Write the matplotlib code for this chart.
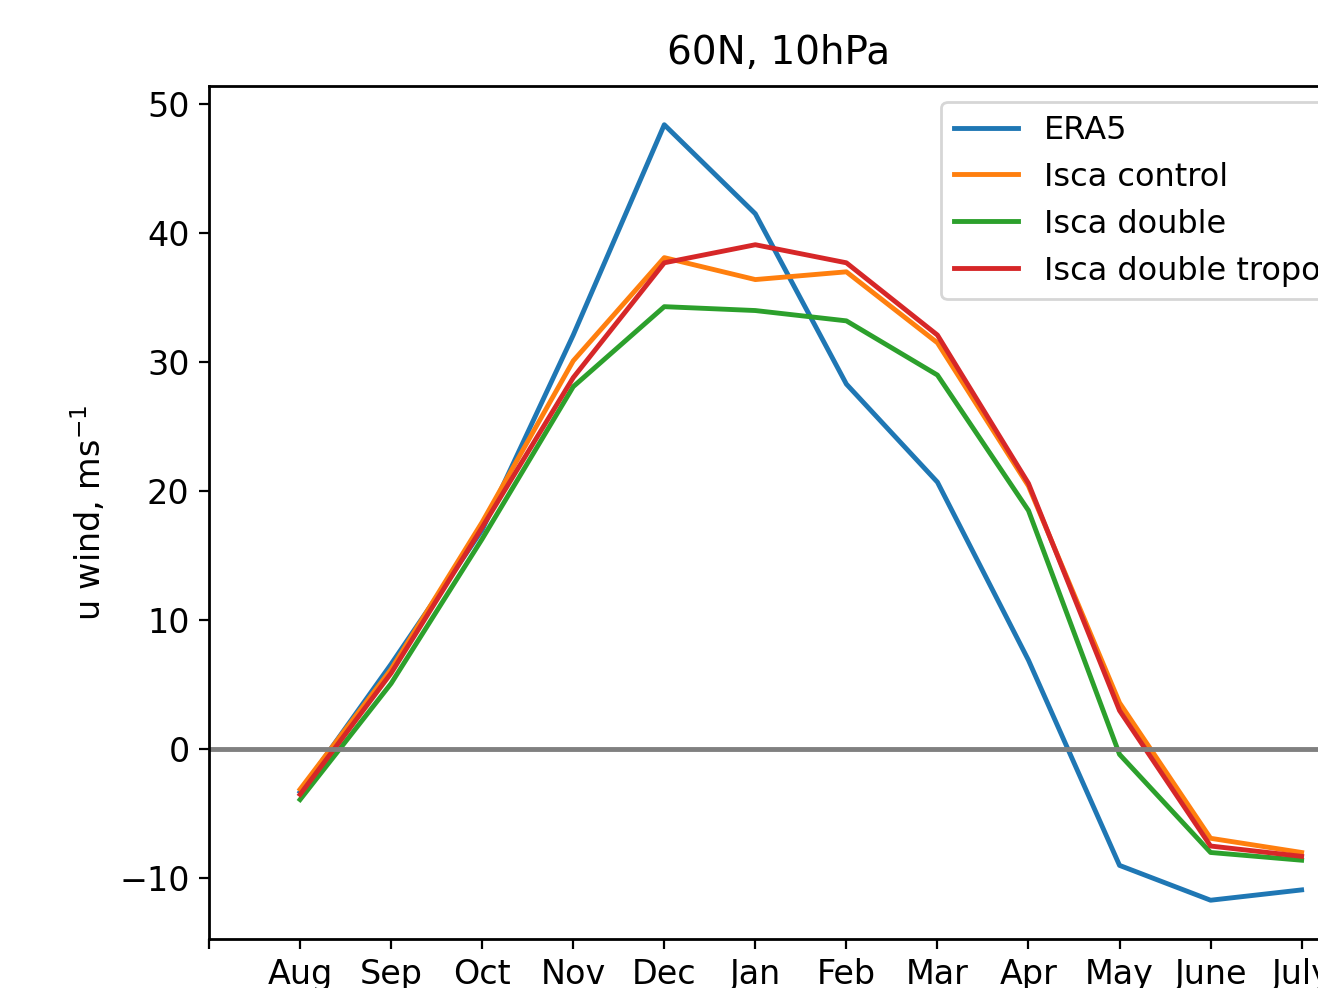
import matplotlib
matplotlib.use("Agg")
import matplotlib.pyplot as plt
import numpy as np

months = ['Aug', 'Sep', 'Oct', 'Nov', 'Dec', 'Jan', 'Feb', 'Mar', 'Apr', 'May', 'June', 'July']

# zonal mean u wind at 60N, 10hPa (m/s)
era5 = [-3.3, 6.6, 17.0, 32.1, 48.4, 41.5, 28.3, 20.7, 6.9, -9.0, -11.7, -10.9]
isca_control = [-3.1, 6.2, 17.6, 30.1, 38.1, 36.4, 37.0, 31.5, 20.4, 3.6, -6.9, -8.0]
isca_double = [-3.9, 5.1, 16.3, 28.1, 34.3, 34.0, 33.2, 29.0, 18.5, -0.4, -8.0, -8.6]
isca_double_tropo = [-3.5, 5.9, 17.2, 28.8, 37.7, 39.1, 37.7, 32.1, 20.6, 3.0, -7.5, -8.3]

x = np.arange(1, len(months) + 1)

plt.rcParams['font.size'] = 12
plt.rcParams['axes.linewidth'] = 1.0

fig = plt.figure(figsize=(6.59, 4.94), dpi=200)
ax = fig.add_axes([0.1586, 0.0496, 1.0235 - 0.1586, 0.913 - 0.0496])

ax.plot(x, era5, lw=1.75, label='ERA5')
ax.plot(x, isca_control, lw=1.75, label='Isca control')
ax.plot(x, isca_double, lw=1.75, label='Isca double')
ax.plot(x, isca_double_tropo, lw=1.75, label='Isca double tropo')
ax.axhline(0, color='grey', lw=1.75)

ax.set_xlim(0, 12.52)
ax.set_xticks(np.arange(0, len(months) + 1))
ax.set_xticklabels([''] + months)
ax.set_ylabel('u wind, ms$^{-1}$')
ax.set_title('60N, 10hPa', fontsize=14, pad=8)
ax.legend(loc='upper right', fontsize=11.5)

fig.savefig('out.png', dpi=200)
